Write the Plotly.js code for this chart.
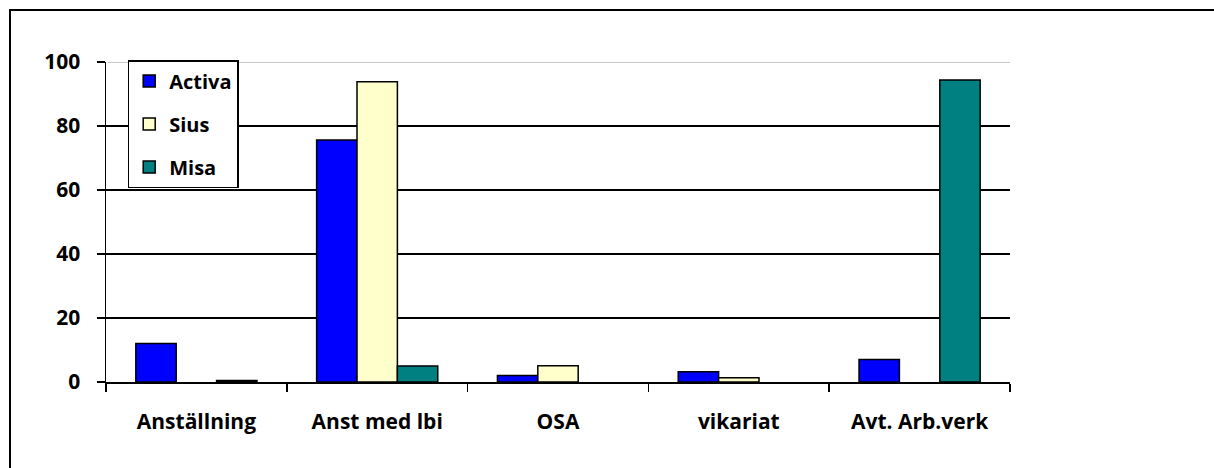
<!DOCTYPE html>
<html>
<head>
<meta charset="utf-8">
<script src="https://cdn.plot.ly/plotly-3.0.1.min.js"></script>
<style>
html,body{margin:0;padding:0;background:#fff;}
#wrap{position:relative;width:1214px;height:468px;}
#chart{position:absolute;left:0;top:0;width:1214px;height:468px;}
#frame{position:absolute;left:9px;top:9px;width:1205px;height:459px;border-top:2px solid #000;border-left:2px solid #000;pointer-events:none;}
</style>
</head>
<body>
<div id="wrap"><div id="chart"></div><div id="frame"></div></div>
<script>
const categories = ["Anställning", "Anst med lbi", "OSA", "vikariat", "Avt. Arb.verk"];
const activa = [12, 75.6, 2, 3.2, 7];
const sius = [0, 93.8, 5.1, 1.3, 0];
const misa = [0.5, 5, 0, 0, 94.4];
const yTicks = [0, 20, 40, 60, 80, 100];

const font = "'Open Sans', Lato, sans-serif";
// zero values are not drawn as visible bars in the original
const show = vals => vals.map(v => v === 0 ? null : v);
function mk(color) {
  return {color: color, line: {color: "#000", width: 1.5}};
}

const traces = [
  {type: "bar", name: "Activa", x: categories, y: show(activa), marker: mk("#0000FF"), legendgroup: "a"},
  {type: "bar", name: "Sius", x: categories, y: show(sius), marker: mk("#FFFFCC"), legendgroup: "b"},
  {type: "bar", name: "Misa", x: categories, y: show(misa), marker: mk("#008080"), legendgroup: "c"}
];

const layout = {
  width: 1214, height: 468,
  margin: {l: 106, r: 204, t: 62, b: 86},
  paper_bgcolor: "#fff", plot_bgcolor: "#fff",
  font: {family: font, size: 21, color: "#000", weight: "bold"},
  barmode: "group", bargap: 0.33, bargroupgap: 0,
  showlegend: true,
  legend: {
    x: 0.024, y: 1.006, xanchor: "left", yanchor: "top",
    bgcolor: "#fff", bordercolor: "#000", borderwidth: 1.5,
    font: {family: font, size: 20, weight: "bold", color: "#000"},
    tracegroupgap: 14, traceorder: "grouped", itemwidth: 30
  },
  xaxis: {
    type: "category", showgrid: false, showline: true, linecolor: "#000", linewidth: 1.5,
    ticks: "outside", tickson: "boundaries", ticklen: 8, tickcolor: "#000", tickwidth: 1.5,
    tickfont: {family: font, size: 21, weight: "bold"}, ticklabelstandoff: 20, zeroline: false
  },
  yaxis: {
    range: [0, 100], tickvals: yTicks, ticktext: yTicks.map(String),
    showgrid: true, gridcolor: "#000", gridwidth: 1.2,
    showline: true, linecolor: "#000", linewidth: 1.5,
    ticks: "outside", ticklen: 8, tickcolor: "#000", tickwidth: 1.5,
    tickfont: {family: font, size: 21, weight: "bold"}, ticklabelstandoff: 12, zeroline: false
  },
  shapes: [
    {type: "line", xref: "paper", yref: "y", x0: 0.002, x1: 1, y0: 100, y1: 100, line: {color: "#c8c8c8", width: 2}, layer: "above"}
  ]
};

Plotly.newPlot("chart", traces, layout, {staticPlot: true, displayModeBar: false});
</script>
</body>
</html>
